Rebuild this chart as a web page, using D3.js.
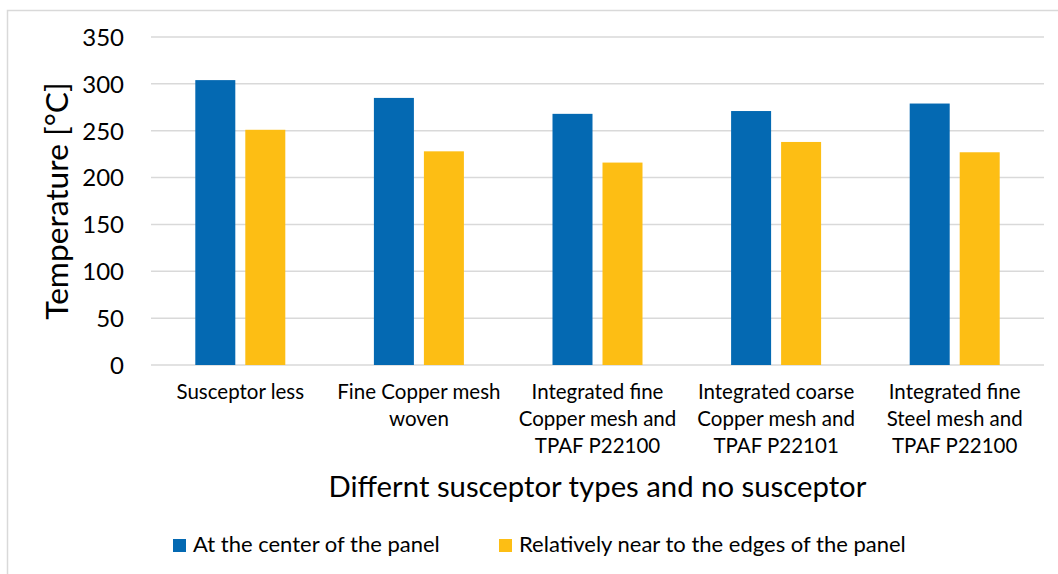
<!DOCTYPE html>
<html>
<head>
<meta charset="utf-8">
<script src="https://cdn.jsdelivr.net/npm/d3@7"></script>
<style>
  html, body { margin: 0; padding: 0; background: #fff; }
  svg { display: block; }
  text { font-family: Lato, "Open Sans", sans-serif; fill: #000; }
</style>
</head>
<body>
<svg id="chart" width="1058" height="574"></svg>
<script>
// Susceptor configurations tested
const categories = [
  ["Susceptor less"],
  ["Fine Copper mesh", "woven"],
  ["Integrated fine", "Copper mesh and", "TPAF P22100"],
  ["Integrated coarse", "Copper mesh and", "TPAF P22101"],
  ["Integrated fine", "Steel mesh and", "TPAF P22100"]
];
const seriesNames = ["At the center of the panel", "Relatively near to the edges of the panel"];
const centerTemps = [304, 285, 268, 271, 279];
const edgeTemps = [251, 228, 216, 238, 227];
const yTicks = [0, 50, 100, 150, 200, 250, 300, 350];
const colors = ["#0469B2", "#FDBE14"];

const svg = d3.select("#chart");
const W = 1058, H = 574;
const plot = { left: 151, right: 1044, top: 37, bottom: 365 };

// chart frame (left and top edges visible)
svg.append("rect")
  .attr("x", 7.5).attr("y", 10.5)
  .attr("width", W + 20).attr("height", H + 20)
  .attr("fill", "none").attr("stroke", "#d9d9d9").attr("stroke-width", 1.5);

const catKeys = categories.map((c, i) => i);
const x0 = d3.scaleBand().domain(catKeys).range([plot.left, plot.right]).padding(0);
const x1 = d3.scaleBand().domain([0, 1]).range([0, 90]).paddingInner(0.2).paddingOuter(0);
const y = d3.scaleLinear().domain([0, 350]).range([plot.bottom, plot.top]);

// gridlines
svg.append("g").selectAll("line").data(yTicks).join("line")
  .attr("x1", plot.left).attr("x2", plot.right)
  .attr("y1", d => y(d)).attr("y2", d => y(d))
  .attr("stroke", "#d9d9d9").attr("stroke-width", 1.5);

// y tick labels
const yAxis = d3.axisLeft(y).tickValues(yTicks).tickSize(0).tickPadding(0);
const gy = svg.append("g").attr("transform", `translate(124,0)`).call(yAxis);
gy.select(".domain").remove();
gy.selectAll("text")
  .style("font-family", "Lato, sans-serif")
  .attr("font-size", 24).attr("fill", "#000").attr("dy", "0.35em");

// bars
const rows = categories.map((c, i) => ({ i, vals: [centerTemps[i], edgeTemps[i]] }));
const groups = svg.append("g").selectAll("g").data(rows).join("g")
  .attr("transform", d => `translate(${x0(d.i) + x0.bandwidth() / 2 - 45},0)`);
groups.selectAll("rect").data(d => d.vals.map((v, s) => ({ v, s }))).join("rect")
  .attr("x", d => x1(d.s))
  .attr("width", x1.bandwidth())
  .attr("y", d => y(d.v))
  .attr("height", d => y(0) - y(d.v))
  .attr("fill", d => colors[d.s]);

// category labels
const catG = svg.append("g");
categories.forEach((lines, i) => {
  const t = catG.append("text")
    .attr("x", x0(i) + x0.bandwidth() / 2)
    .attr("y", 399)
    .attr("text-anchor", "middle")
    .attr("font-size", 20.5);
  lines.forEach((ln, k) => {
    t.append("tspan").attr("x", x0(i) + x0.bandwidth() / 2).attr("dy", k === 0 ? 0 : 27).text(ln);
  });
});

// axis titles
svg.append("text")
  .attr("x", (plot.left + plot.right) / 2).attr("y", 497)
  .attr("text-anchor", "middle").attr("font-size", 29.3)
  .text("Differnt susceptor types and no susceptor");

svg.append("text")
  .attr("transform", `translate(68,${(plot.top + plot.bottom) / 2}) rotate(-90)`)
  .attr("text-anchor", "middle").attr("font-size", 31.7)
  .text("Temperature [°C]");

// legend
const legendX = [173, 499];
const lg = svg.append("g").selectAll("g").data(seriesNames).join("g")
  .attr("transform", (d, i) => `translate(${legendX[i]},539)`);
lg.append("rect").attr("width", 13).attr("height", 13).attr("fill", (d, i) => colors[i]);
lg.append("text").attr("x", 20).attr("y", 13).attr("font-size", 22).text(d => d);
</script>
</body>
</html>
